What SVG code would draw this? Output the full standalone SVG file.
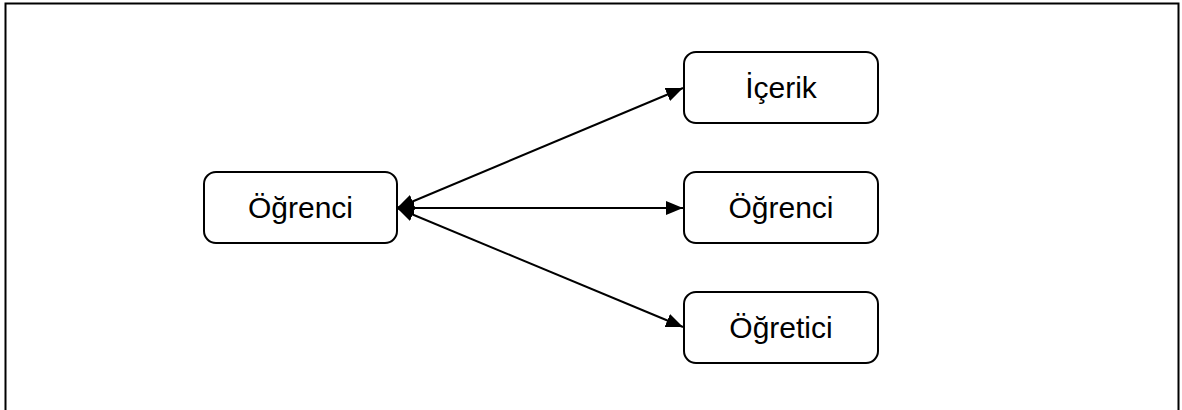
<svg xmlns="http://www.w3.org/2000/svg" width="1182" height="410" viewBox="0 0 1182 410">
  <style>
    .frame { fill: none; stroke: #000; stroke-width: 2; }
    .box { fill: #fff; stroke: #000; stroke-width: 2; }
    .label { font-family: "Liberation Sans", Arial, sans-serif; font-size: 30px; fill: #000; text-anchor: middle; }
    .edge { stroke: #000; stroke-width: 2; fill: none; }
  </style>
  <defs>
    <marker id="head" viewBox="0 0 17 14" refX="17" refY="7" markerWidth="17" markerHeight="14" markerUnits="userSpaceOnUse" orient="auto-start-reverse">
      <path d="M0,0 L17,7 L0,14 Z" fill="#000"/>
    </marker>
  </defs>

  <rect width="1182" height="410" fill="#fff"/>
  <!-- outer frame, open at the bottom -->
  <path class="frame" d="M5.5,412 V3.5 H1178.5 V412"/>

  <g id="connectors">
    <line class="edge" x1="397" y1="208" x2="683" y2="88" marker-start="url(#head)" marker-end="url(#head)"/>
    <line class="edge" x1="397" y1="208" x2="683" y2="208" marker-start="url(#head)" marker-end="url(#head)"/>
    <line class="edge" x1="397" y1="208" x2="683" y2="327" marker-start="url(#head)" marker-end="url(#head)"/>
  </g>

  <g id="node-ogrenci-left">
    <rect class="box" x="204" y="172" width="193" height="71" rx="12"/>
    <text class="label" x="300.5" y="218">Öğrenci</text>
  </g>
  <g id="node-icerik">
    <rect class="box" x="684" y="52" width="194" height="71" rx="12"/>
    <text class="label" x="781" y="98">İçerik</text>
  </g>
  <g id="node-ogrenci-right">
    <rect class="box" x="684" y="172" width="194" height="71" rx="12"/>
    <text class="label" x="781" y="218">Öğrenci</text>
  </g>
  <g id="node-ogretici">
    <rect class="box" x="684" y="292" width="194" height="71" rx="12"/>
    <text class="label" x="781" y="338">Öğretici</text>
  </g>
</svg>
